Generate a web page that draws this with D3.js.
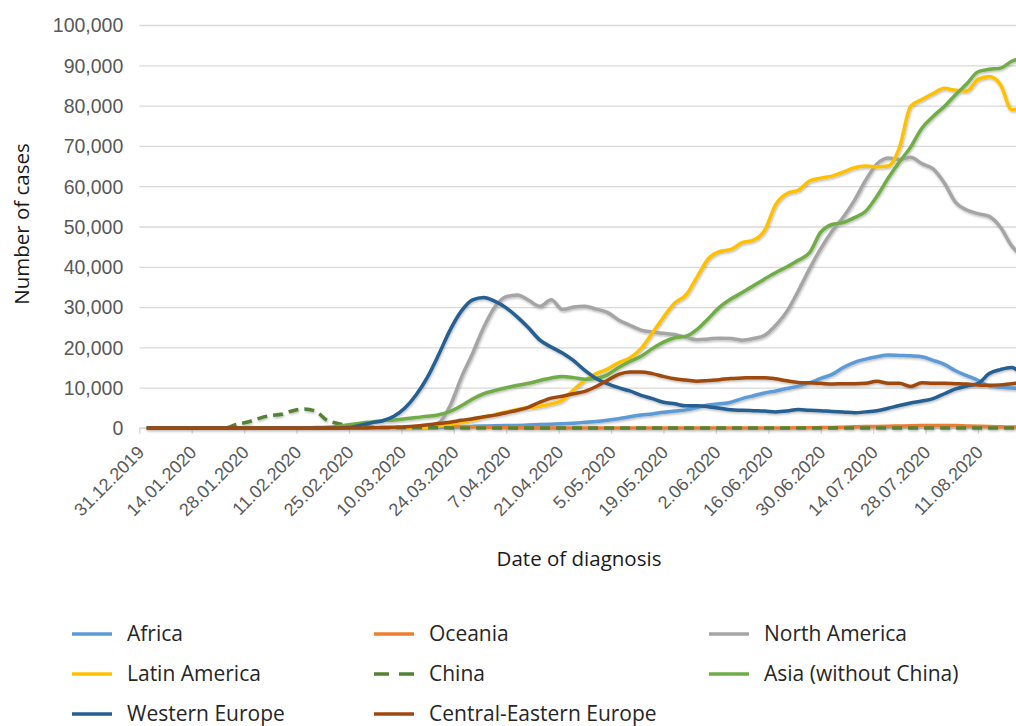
<!DOCTYPE html>
<html>
<head>
<meta charset="utf-8">
<script src="https://cdn.jsdelivr.net/npm/d3@7"></script>
<style>
  body { margin: 0; background: #fff; }
  svg { display: block; font-family: "Open Sans", sans-serif; }
</style>
</head>
<body>
<svg id="chart" width="1016" height="726"></svg>
<script>
// sampled every 3 days, 2020
const dates = ["01-02","01-05","01-08","01-11","01-14","01-17","01-20","01-23","01-26","01-29",
  "02-01","02-04","02-07","02-10","02-13","02-16","02-19","02-22","02-25","02-28",
  "03-02","03-05","03-08","03-11","03-14","03-17","03-20","03-23","03-26","03-29",
  "04-01","04-04","04-07","04-10","04-13","04-16","04-19","04-22","04-25","04-28",
  "05-01","05-04","05-07","05-10","05-13","05-16","05-19","05-22","05-25","05-28",
  "05-31","06-03","06-06","06-09","06-12","06-15","06-18","06-21","06-24","06-27",
  "06-30","07-03","07-06","07-09","07-12","07-15","07-18","07-21","07-24","07-27",
  "07-30","08-02","08-05","08-08","08-11","08-14","08-17","08-20","08-23"];

const africa = [0,0,0,0,0,0,0,0,0,0, 0,0,0,0,0,0,0,0,0,0, 0,0,0,
  20,50,80,120,200,300,400,500,550,600,650,750,850,950,1050,1200,1400,1600,1900,2300,
  2800,3200,3500,3900,4200,4500,5100,5700,6000,6400,7300,8000,8700,9200,9800,10400,11200,12300,
  13300,15000,16300,17100,17700,18100,18000,17900,17700,16800,15800,14200,13000,11800,10400,10100,9900,9800];

const oceania = [0,0,0,0,0,0,0,0,0,0, 0,0,0,0,0,0,0,0,0,0, 0,0,
  30,80,150,250,350,400,380,300,220,150,90,50,30,
  20,20,20,20,20,20,20,20,20,20,20,20,20,20,20,20,20,20,20,20,20,20,
  30,50,80,100,150,200,280,350,400,450,500,550,600,620,650,600,500,420,350,300,250,220];

const northAmerica = [0,0,0,0,0,0,0,0,0,0, 0,0,0,0,0,0,0,0,0,0, 0,0,0,
  50,200,600,1300,5500,12500,18500,25000,30100,32600,
  33000,31700,30200,31800,29400,30000,30200,29500,28700,26800,
  25500,24300,23800,23500,23200,22500,21900,22100,22300,22200,
  21800,22200,23000,25500,29000,34000,39500,44500,48800,52300,
  56500,61500,65500,67000,66600,67200,65600,64300,60800,56000,
  54100,53200,52500,49800,45200,42500];

const latinAmerica = [0,0,0,0,0,0,0,0,0,0, 0,0,0,0,0,0,0,0,0,0, 0,0,0,0,0,
  200,500,900,1400,2000,2700,3300,4000,4600,5000,
  5400,6000,6900,9500,11800,13500,14600,16200,17400,19700,
  23500,27500,31000,33000,37500,42000,43800,44300,46000,46600,
  49000,55500,58200,59000,61300,62000,62500,63500,64600,65000,
  64800,65000,69500,79800,81500,83000,84300,83800,83600,86500,
  87200,85200,79000,79600];

const china = [0,0,0,0,0,0,0,
  50,900,1500,2400,3100,3400,4300,4700,4200,2000,
  1100,600,350,200,100,80,60,50,50,50,
  30,30,30,30,30,30,30,30,30,30,30,30,30,30,30,30,30,30,30,30,30,30,30,30,30,30,
  30,30,30,30,30,30,30,30,30,30,30,30,30,30,30,30,30,30,30,30,30,30,30,30,30,30];

const asia = [0,0,0,0,0,0,0,0,0,0, 0,0,0,0,0,
  100,200,400,800,1200,1500,1800,2000,2300,2600,
  2900,3300,4100,5500,7200,8500,9300,10000,10600,11100,
  11800,12400,12800,12500,12100,12300,13200,15000,16500,17800,
  19700,21300,22400,22800,24500,27200,30000,32000,33600,35300,
  37000,38600,40000,41600,43500,48600,50500,51000,52200,53800,
  57500,62000,66000,69700,74400,77300,79800,82700,85400,88400,
  89000,89300,91000,92000];

const westernEurope = [0,0,0,0,0,0,0,0,0,0, 0,0,0,0,0,0,0,0,
  100,700,1300,1800,2900,5000,8300,12700,18300,24300,
  29000,31800,32400,31400,29800,27500,24800,21800,20100,18600,
  16700,14300,12300,11000,10000,9200,8100,7300,6400,6000,
  5500,5500,5300,4900,4500,4400,4300,4200,4000,4200,
  4600,4400,4300,4100,4000,3800,4000,4300,4900,5600,
  6200,6700,7300,8500,9700,10400,11000,13500,14500,15000,13000];

const centralEasternEurope = [0,0,0,0,0,0,0,0,0,0, 0,0,0,0,0,0,0,0,0,0,
  50,100,200,300,500,800,1100,1450,1900,2300,
  2800,3200,3800,4400,5200,6400,7400,7900,8500,9100,
  10300,11800,13300,13900,13900,13500,12800,12200,11900,11600,
  11800,12000,12300,12400,12500,12500,12200,11700,11300,11200,
  11100,10900,11000,11000,11100,11600,11100,11100,10300,11200,
  11100,11100,11000,10900,10700,10600,10700,11000,11200];

const tickLabels = ["31.12.2019","14.01.2020","28.01.2020","11.02.2020","25.02.2020","10.03.2020",
  "24.03.2020","7.04.2020","21.04.2020","5.05.2020","19.05.2020","2.06.2020","16.06.2020",
  "30.06.2020","14.07.2020","28.07.2020","11.08.2020"];
const yTicks = [0,10000,20000,30000,40000,50000,60000,70000,80000,90000,100000];

const series = [
  {name: "Africa", values: africa, color: "#5B9BD5"},
  {name: "Oceania", values: oceania, color: "#ED7D31"},
  {name: "North America", values: northAmerica, color: "#A5A5A5"},
  {name: "Latin America", values: latinAmerica, color: "#FFC000"},
  {name: "China", values: china, color: "#548235", dash: true},
  {name: "Asia (without China)", values: asia, color: "#70AD47"},
  {name: "Western Europe", values: westernEurope, color: "#255E91"},
  {name: "Central-Eastern Europe", values: centralEasternEurope, color: "#9E480E"}
];

const parseDay = d3.timeParse("%Y-%m-%d");
const parseTick = d3.timeParse("%d.%m.%Y");
const days = dates.map(d => parseDay("2020-" + d));
const tickDates = tickLabels.map(parseTick);

const W = 1016, plotLeft = 139.3, plotBottom = 428, plotTop = 25;
const svg = d3.select("#chart");

const x = d3.scaleTime()
  .domain([tickDates[0], tickDates[tickDates.length - 1]])
  .range([plotLeft, 978]);
const y = d3.scaleLinear().domain([0, 100000]).range([plotBottom, plotTop]);

// shadow like the office line effect
const defs = svg.append("defs");
defs.append("filter").attr("id", "shadow")
  .attr("x", "-5%").attr("y", "-5%").attr("width", "110%").attr("height", "110%")
  .append("feDropShadow")
  .attr("dx", 0.8).attr("dy", 1.4).attr("stdDeviation", 1.1)
  .attr("flood-color", "#000").attr("flood-opacity", 0.28);

// y axis + grid
const yAxis = svg.append("g")
  .attr("transform", `translate(${plotLeft},0)`)
  .call(d3.axisLeft(y).tickValues(yTicks).tickSize(-(W - plotLeft)).tickPadding(16)
    .tickFormat(d3.format(",")));
yAxis.select(".domain").remove();
yAxis.selectAll("line").attr("stroke", "#D9D9D9").attr("stroke-width", 1.3);
yAxis.selectAll("text").attr("fill", "#595959")
  .style("font-size", "19.5px").attr("dy", "0.35em");

// x axis
const xAxis = svg.append("g")
  .attr("transform", `translate(0,${plotBottom})`)
  .call(d3.axisBottom(x).tickValues(tickDates).tickSize(6)
    .tickFormat((d, i) => tickLabels[i]));
xAxis.select(".domain").remove();
xAxis.append("line").attr("x1", plotLeft).attr("x2", W).attr("y1", 0).attr("y2", 0)
  .attr("stroke", "#D9D9D9").attr("stroke-width", 1.3);
xAxis.selectAll(".tick line").attr("stroke", "#D9D9D9").attr("stroke-width", 1.3);
xAxis.selectAll(".tick text")
  .attr("x", 0).attr("y", 0).attr("dy", "0.35em")
  .attr("transform", "translate(1,21) rotate(-45)")
  .style("text-anchor", "end")
  .attr("fill", "#595959")
  .style("font-size", "18px");

// lines
const line = d3.line()
  .x((d, i) => x(days[i]))
  .y(d => y(d))
  .curve(d3.curveMonotoneX);

svg.append("g").attr("filter", "url(#shadow)")
  .selectAll("path")
  .data(series)
  .join("path")
  .attr("d", s => line(s.values))
  .attr("fill", "none")
  .attr("stroke", s => s.color)
  .attr("stroke-width", 3.5)
  .attr("stroke-linejoin", "round")
  .attr("stroke-dasharray", s => s.dash ? "10,6" : null);

// axis titles
svg.append("text")
  .attr("transform", "translate(29,224) rotate(-90)")
  .attr("text-anchor", "middle")
  .attr("fill", "#1a1a1a")
  .style("font-size", "20.5px")
  .text("Number of cases");

svg.append("text")
  .attr("x", 579).attr("y", 566)
  .attr("text-anchor", "middle")
  .attr("fill", "#1a1a1a")
  .style("font-size", "20.5px")
  .text("Date of diagnosis");

// legend (row-wise, 3 columns)
const colX = [72, 374, 709], rowY = [634, 674, 714];
const leg = svg.append("g").selectAll("g")
  .data(series)
  .join("g")
  .attr("transform", (s, i) => `translate(${colX[i % 3]},${rowY[Math.floor(i / 3)]})`);
leg.append("line")
  .attr("x1", 0).attr("x2", 40).attr("y1", 0).attr("y2", 0)
  .attr("stroke", s => s.color)
  .attr("stroke-width", 3.5)
  .attr("stroke-dasharray", s => s.dash ? "15,10" : null);
leg.append("text")
  .attr("x", 55).attr("y", 0).attr("dy", "0.35em")
  .attr("fill", "#262626")
  .style("font-size", "21px")
  .text(s => s.name);
</script>
</body>
</html>
